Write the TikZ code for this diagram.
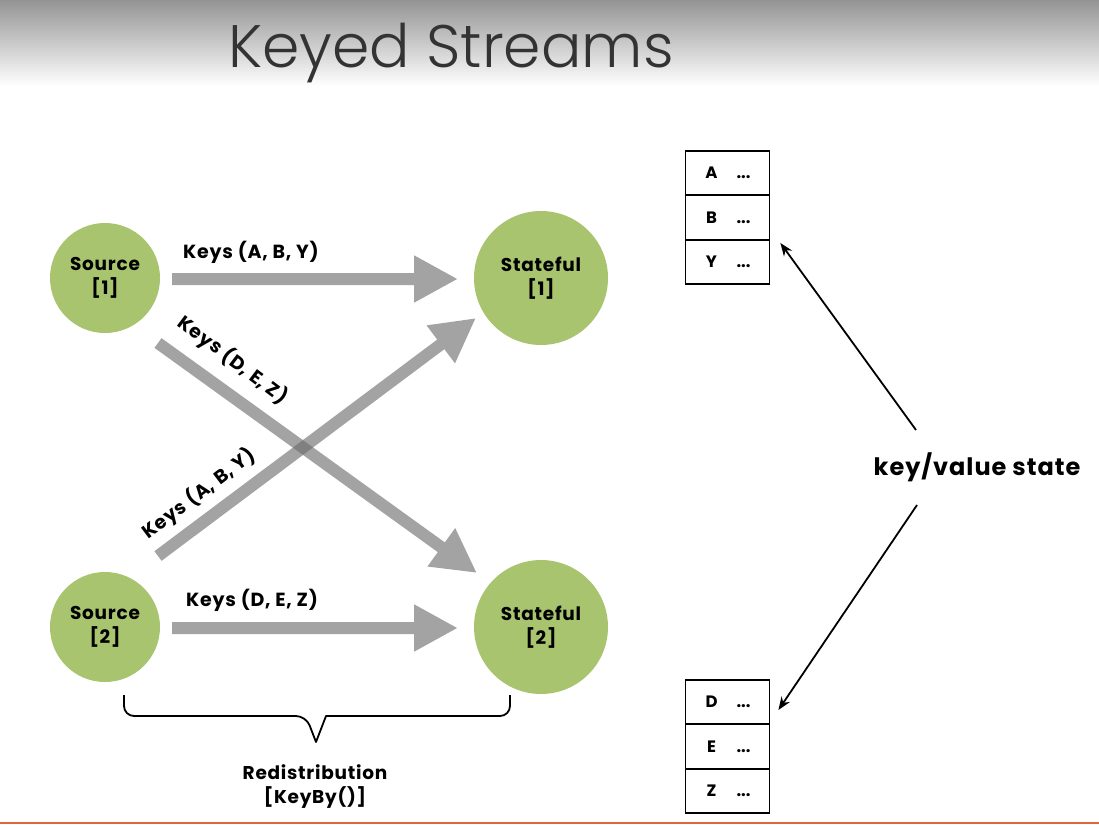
\documentclass[tikz,border=0pt]{standalone}
\usepackage{fontspec}
\setmainfont{Poppins}
\newfontfamily\titlefont{Poppins Light}
\newfontfamily\labelfont[LetterSpace=4]{Poppins}
\usetikzlibrary{arrows.meta,calc}
\definecolor{nodegreen}{HTML}{A8C46E}
\definecolor{flowgray}{HTML}{6B6B6B}
\definecolor{titlegray}{HTML}{333333}
\definecolor{barorange}{HTML}{E0663E}
\begin{document}
\begin{tikzpicture}[x=1pt,y=-1pt,
  proc/.style={circle, fill=nodegreen, inner sep=0pt, align=center,
    font=\labelfont\bfseries\fontsize{18.5}{24}\selectfont},
  flowlabel/.style={font=\labelfont\bfseries\fontsize{19}{22}\selectfont, inner sep=0pt},
  flowarrow/.style={draw=flowgray, line width=12pt,
    -{Triangle[width=44pt, length=44pt]}},
  cell/.style={draw, line width=1.8pt, minimum width=84pt, minimum height=44.5pt,
    inner sep=0pt, font=\bfseries\fontsize{16.5}{20}\selectfont},
  kvarrow/.style={draw, line width=1.8pt, -{Stealth[length=13pt, width=10pt]}}]

\useasboundingbox (0,0) rectangle (1099,824);

% header band and title
\shade[top color=black!42, bottom color=white] (0,0) rectangle (1099,86);
\node[anchor=base west, inner sep=0pt, text=titlegray,
  font=\titlefont\fontsize{60}{64}\selectfont] (title) at (228,68) {Keyed Streams};

% operators
\node[proc, minimum size=110pt] (s1) at (105,278) {Source\\{}[1]};
\node[proc, minimum size=110pt] (s2) at (105,627) {Source\\{}[2]};
\node[proc, minimum size=134pt] (t1) at (541,278) {Stateful\\{}[1]};
\node[proc, minimum size=134pt] (t2) at (541,627) {Stateful\\{}[2]};

% key flows between sources and stateful operators
\begin{scope}[transparency group, opacity=0.62]
  \draw[flowarrow] ([shift={(67,1)}]s1.center) -- ([shift={(-83,1)}]t1.center);
\end{scope}
\begin{scope}[transparency group, opacity=0.62]
  \draw[flowarrow] ([shift={(67,1)}]s2.center) -- ([shift={(-83,1)}]t2.center);
\end{scope}
\begin{scope}[transparency group, opacity=0.62]
  \draw[flowarrow] ([shift={(53,65)}]s1.center) -- ([shift={(-64,-54)}]t2.center);
\end{scope}
\begin{scope}[transparency group, opacity=0.62]
  \draw[flowarrow] ([shift={(53,-71)}]s2.center) -- ([shift={(-65,40)}]t1.center);
\end{scope}

\node[flowlabel] (l1) at (251,252) {Keys (A, B, Y)};
\node[flowlabel] (l4) at (252,600) {Keys (D, E, Z)};
\node[flowlabel, rotate=-37] (l2) at (233,360) {Keys (D, E, Z)};
\node[flowlabel, rotate=37] (l3) at (199,494) {Keys (A, B, Y)};

% redistribution brace
\draw[line width=1.8pt, line join=round]
  (124,695) [rounded corners=10pt] -- (124,716) -- (306,716) [sharp corners]
  -- (316,742) -- (326,716) [rounded corners=10pt] -- (510,716) -- (510,695);
\node[flowlabel, align=center, font=\labelfont\bfseries\fontsize{18.5}{24}\selectfont]
  (redist) at (315,787) {Redistribution\\{}[KeyBy()]};

% key/value state tables
\node[cell] (ka) at (727.5,173)   {\makebox[14pt]{A}\hspace{18pt}...};
\node[cell] (kb) at (727.5,217.5) {\makebox[14pt]{B}\hspace{18pt}...};
\node[cell] (ky) at (727.5,262)   {\makebox[14pt]{Y}\hspace{18pt}...};
\node[cell] (kd) at (727.5,702)   {\makebox[14pt]{D}\hspace{18pt}...};
\node[cell] (ke) at (727.5,746.5) {\makebox[14pt]{E}\hspace{18pt}...};
\node[cell] (kz) at (727.5,791)   {\makebox[14pt]{Z}\hspace{18pt}...};

\node[font=\labelfont\bfseries\fontsize{24}{28}\selectfont, inner sep=0pt] (kv) at (977,467) {key/value state};
\draw[kvarrow] ([shift={(-61,-37)}]kv.center) -- ([shift={(10,-19)}]ky.east);
\draw[kvarrow] ([shift={(-60,38)}]kv.center) -- ([shift={(8,8)}]kd.east);

% bottom rule
\fill[barorange] (0,821.5) rectangle (1099,824);
\end{tikzpicture}
\end{document}
